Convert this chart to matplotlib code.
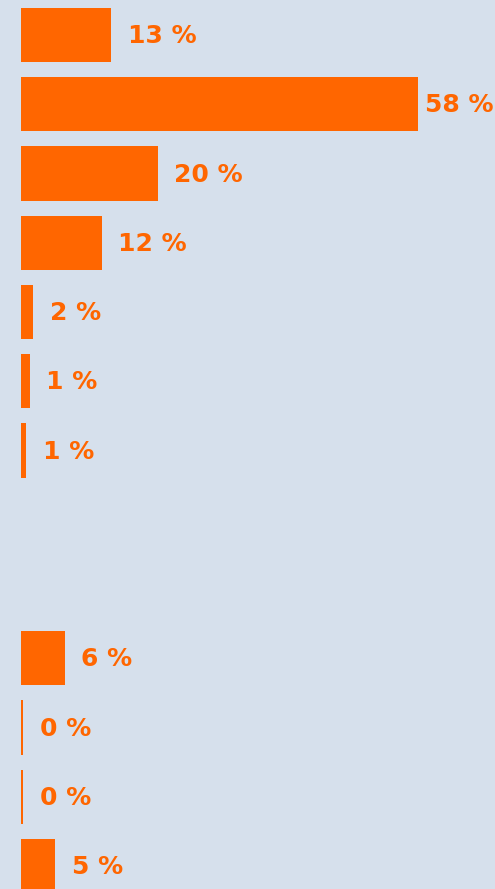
"""
Horizontal bar chart of percentage shares, orange bars on a pale blue panel.
"""

import matplotlib.pyplot as plt
import numpy as np

# Values (None = empty slot, no bar drawn).
values = [13.15, 58.0, 20.0, 11.8, 1.8, 1.3, 0.8, None, None, 6.4, 0.3, 0.3, 5.0]
labels = ["13 %", "58 %", "20 %", "12 %", "2 %", "1 %", "1 %", None, None,
          "6 %", "0 %", "0 %", "5 %"]

bar_color = "#ff6600"
bg_color = "#d6e0ec"

fig = plt.figure(figsize=(4.95, 8.89), dpi=100)
ax = fig.add_axes([0, 0, 1, 1])
ax.set_facecolor(bg_color)
fig.patch.set_facecolor(bg_color)

# Pixel mapping: x=0 at 21px, 6.845 px per percent; slots 69.25 px apart.
px_x = 6.845
px_y = 69.25
xmin = -21 / px_x
xmax = (495 - 21) / px_x
ax.set_xlim(xmin, xmax)
ax.set_ylim(12 + (889 - 866) / px_y, -35 / px_y)

pos = np.arange(len(values))
for i, (v, lab) in enumerate(zip(values, labels)):
    if v is None:
        continue
    ax.barh(pos[i], v, height=0.78, color=bar_color, edgecolor="none")
    offset = 16.5 / px_x
    if v + offset + 10.5 > xmax:
        tx, ha = xmax - 0.25, "right"
    else:
        tx, ha = v + offset, "left"
    ax.text(tx, pos[i] - 0.02, lab, ha=ha, va="center_baseline", color=bar_color,
            fontsize=18, fontweight="bold", family="DejaVu Sans")

ax.axis("off")
fig.savefig("out.png", dpi=100, facecolor=bg_color)
